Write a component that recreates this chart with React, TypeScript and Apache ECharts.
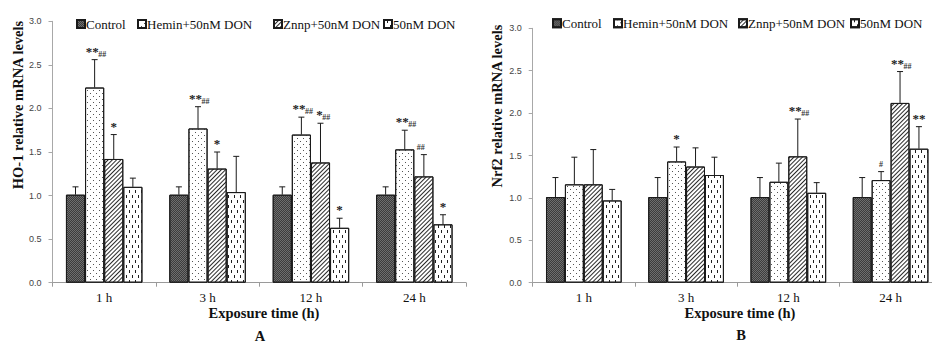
import React, { useEffect, useRef } from "react";
import * as echarts from "echarts";

const categories = ["1 h", "3 h", "12 h", "24 h"];
const seriesNames = ["Control", "Hemin+50nM DON", "Znnp+50nM DON", "50nM DON"];

// HO-1 relative mRNA levels (panel A)
const hoControl = [1.01, 1.01, 1.01, 1.01];
const hoHemin = [2.24, 1.77, 1.7, 1.53];
const hoZnnp = [1.42, 1.31, 1.38, 1.22];
const hoDon = [1.1, 1.04, 0.63, 0.67];
const hoControlSd = [0.09, 0.09, 0.09, 0.09];
const hoHeminSd = [0.32, 0.25, 0.2, 0.22];
const hoZnnpSd = [0.28, 0.19, 0.45, 0.25];
const hoDonSd = [0.1, 0.41, 0.11, 0.11];

// Nrf2 relative mRNA levels (panel B)
const nrControl = [1.01, 1.01, 1.01, 1.01];
const nrHemin = [1.16, 1.43, 1.19, 1.21];
const nrZnnp = [1.16, 1.37, 1.49, 2.12];
const nrDon = [0.97, 1.27, 1.06, 1.58];
const nrControlSd = [0.23, 0.23, 0.23, 0.23];
const nrHeminSd = [0.32, 0.17, 0.22, 0.1];
const nrZnnpSd = [0.41, 0.22, 0.44, 0.37];
const nrDonSd = [0.13, 0.21, 0.12, 0.26];

// significance marks: [category index, series index, stars, hashes]
const hoMarks: [number, number, string, string][] = [
  [0, 1, "**", "##"],
  [0, 2, "*", ""],
  [1, 1, "**", "##"],
  [1, 2, "*", ""],
  [2, 1, "**", "##"],
  [2, 2, "*", "##"],
  [2, 3, "*", ""],
  [3, 1, "**", "##"],
  [3, 2, "", "##"],
  [3, 3, "*", ""],
];
const nrMarks: [number, number, string, string][] = [
  [1, 1, "*", ""],
  [2, 2, "**", "##"],
  [3, 1, "", "#"],
  [3, 2, "**", "##"],
  [3, 3, "**", ""],
];

const yMin = 0;
const yMax = 3;
const yInterval = 0.5;

const SERIF = '"Liberation Serif", "Times New Roman", serif';
const SANS = '"Liberation Sans", Arial, sans-serif';
const CAT_GAP = 0.26;

const fills = ["#6e6e6e", "#ffffff", "#ffffff", "#ffffff"];
const decals: any[] = [
  {
    symbol: "rect",
    symbolSize: 1,
    dashArrayX: [[1, 1], [0, 1, 1, 0]],
    dashArrayY: [1, 0],
    color: "#3c3c3c",
    backgroundColor: "#7c7c7c",
  },
  {
    symbol: "rect",
    symbolSize: 1,
    dashArrayX: [[1, 5], [0, 3, 1, 2]],
    dashArrayY: [1, 2],
    color: "#555555",
    backgroundColor: "#ffffff",
  },
  {
    symbol: "rect",
    symbolSize: 1,
    dashArrayX: [1, 0],
    dashArrayY: [1, 2],
    rotation: -Math.PI / 4,
    color: "#2a2a2a",
    backgroundColor: "#ffffff",
  },
  {
    symbol: "rect",
    symbolSize: 1,
    dashArrayX: [[1, 5], [0, 3, 1, 2]],
    dashArrayY: [3, 2],
    color: "#1e1e1e",
    backgroundColor: "#ffffff",
  },
];

function barX(api: any, cat: number, si: number, v: number) {
  const band = api.size([1, 0])[0];
  const group = band * (1 - CAT_GAP);
  const bw = group / 4;
  const c = api.coord([cat, v]);
  return { x: c[0] - group / 2 + bw * (si + 0.5), y: c[1] };
}

function buildPanel(
  g: number,
  values: number[][],
  sds: number[][],
  marks: [number, number, string, string][]
) {
  const series: any[] = [];
  values.forEach((vals, si) => {
    series.push({
      type: "bar",
      name: seriesNames[si],
      xAxisIndex: g,
      yAxisIndex: g,
      data: vals,
      barGap: "0%",
      barCategoryGap: CAT_GAP * 100 + "%",
      itemStyle: {
        color: fills[si],
        borderColor: "#1a1a1a",
        borderWidth: 1,
        decal: decals[si],
      },
      emphasis: { disabled: true },
      z: 2,
    });
  });
  const errData: number[][] = [];
  values.forEach((vals, si) => {
    vals.forEach((v, ci) => {
      errData.push([ci, si, v, v + sds[si][ci]]);
    });
  });
  series.push({
    type: "custom",
    xAxisIndex: g,
    yAxisIndex: g,
    data: errData,
    z: 3,
    silent: true,
    renderItem: (params: any, api: any) => {
      const ci = api.value(0);
      const si = api.value(1);
      const v = api.value(2);
      const top = api.value(3);
      const p = barX(api, ci, si, v);
      const t = api.coord([ci, top]);
      return {
        type: "group",
        children: [
          {
            type: "line",
            shape: { x1: p.x, y1: p.y, x2: p.x, y2: t[1] },
            style: { stroke: "#1a1a1a", lineWidth: 1 },
          },
          {
            type: "line",
            shape: { x1: p.x - 3, y1: t[1], x2: p.x + 3, y2: t[1] },
            style: { stroke: "#1a1a1a", lineWidth: 1 },
          },
        ],
      };
    },
  });
  const markData = marks.map((m) => {
    const [ci, si] = m;
    return [ci, si, values[si][ci] + sds[si][ci]];
  });
  series.push({
    type: "custom",
    xAxisIndex: g,
    yAxisIndex: g,
    data: markData,
    z: 4,
    silent: true,
    itemStyle: { color: "#222" },
    renderItem: (params: any, api: any) => {
      const m = marks[params.dataIndex];
      const stars = m[2];
      const hash = m[3];
      const ci = api.value(0);
      const si = api.value(1);
      const top = api.value(2);
      const p = barX(api, ci, si, top);
      const children: any[] = [];
      const starW = stars.length * 6.5;
      let cx = p.x;
      if (stars && hash) cx = p.x - (stars.length === 2 ? 2.5 : 1);
      if (stars) {
        children.push({
          type: "text",
          x: cx,
          y: p.y - 8.5,
          style: {
            text: stars,
            font: "bold 13px " + SERIF,
            fill: "#222",
            align: "center",
            verticalAlign: "middle",
          },
        });
      }
      if (hash) {
        const hx = stars ? cx + starW / 2 - 0.5 : p.x - (hash.length - 1) * 3;
        const al = stars ? "left" : "center";
        children.push({
          type: "text",
          x: hx,
          y: stars ? p.y - 5.5 : p.y - 7.5,
          style: {
            text: hash,
            font: "bold 8px " + SERIF,
            fill: "#333",
            align: al,
            verticalAlign: "middle",
          },
        });
      }
      return { type: "group", children };
    },
  });
  return series;
}

function legendsFor(xs: number[], yCenter: number) {
  return xs.map((x, i) => ({
    data: [seriesNames[i]],
    left: x,
    top: yCenter - 8,
    padding: 0,
    itemWidth: 8,
    itemHeight: 8,
    icon: "rect",
    selectedMode: false,
    textStyle: {
      fontFamily: SERIF,
      fontSize: 13,
      color: "#111",
      lineHeight: 16,
      padding: [0, 0, 0, -4],
    },
  }));
}

function xAxisFor(g: number) {
  return {
    type: "category",
    gridIndex: g,
    data: categories,
    axisLine: { show: true, lineStyle: { color: "#9a9a9a", width: 1 } },
    axisTick: { show: true, length: 4, lineStyle: { color: "#9a9a9a" } },
    axisLabel: {
      fontFamily: SERIF,
      fontSize: 13,
      color: "#111",
      margin: 8,
    },
  };
}

function yAxisFor(g: number) {
  return {
    type: "value",
    gridIndex: g,
    min: yMin,
    max: yMax,
    interval: yInterval,
    axisLine: { show: true, lineStyle: { color: "#a8a8a8", width: 1 } },
    axisTick: { show: true, length: 4, lineStyle: { color: "#a8a8a8" } },
    splitLine: { show: false },
    axisLabel: {
      fontFamily: SANS,
      fontSize: 9,
      color: "#444",
      margin: 11,
      formatter: (v: number) => v.toFixed(1),
    },
  };
}

function textEl(text: string, x: number, y: number, size: number, rot = 0) {
  return {
    type: "text",
    x,
    y,
    rotation: rot,
    style: {
      text,
      font: "bold " + size + "px " + SERIF,
      fill: "#111",
      align: "center",
      verticalAlign: "middle",
    },
  };
}

export default function App() {
  const ref = useRef<HTMLDivElement>(null);
  useEffect(() => {
    if (!ref.current) return;
    const chart = echarts.init(ref.current, null, { renderer: "svg" });
    const seriesA = buildPanel(
      0,
      [hoControl, hoHemin, hoZnnp, hoDon],
      [hoControlSd, hoHeminSd, hoZnnpSd, hoDonSd],
      hoMarks
    );
    const seriesB = buildPanel(
      1,
      [nrControl, nrHemin, nrZnnp, nrDon],
      [nrControlSd, nrHeminSd, nrZnnpSd, nrDonSd],
      nrMarks
    );
    chart.setOption({
      animation: false,
      backgroundColor: "#ffffff",
      grid: [
        { left: 52.5, top: 21.3, width: 413.5, height: 261.4 },
        { left: 532.7, top: 28.3, width: 409, height: 254.4 },
      ],
      legend: [
        ...legendsFor([76, 137, 273, 383], 24),
        ...legendsFor([552, 613, 738, 850], 23.3),
      ],
      xAxis: [xAxisFor(0), xAxisFor(1)],
      yAxis: [yAxisFor(0), yAxisFor(1)],
      series: [...seriesA, ...seriesB],
      graphic: [
        textEl("HO-1 relative mRNA levels", 18, 105, 14.5, Math.PI / 2),
        textEl("Nrf2 relative mRNA levels", 497, 106, 14.5, Math.PI / 2),
        textEl("Exposure time (h)", 264, 313, 14.5),
        textEl("Exposure time (h)", 740, 313, 14.5),
        textEl("A", 260, 336, 14.5),
        textEl("B", 741, 335, 14.5),
      ],
    });
    return () => chart.dispose();
  }, []);
  return (
    <div
      style={{
        position: "absolute",
        left: 0,
        top: 0,
        width: 932,
        height: 345,
        overflow: "hidden",
      }}
    >
      <div ref={ref} style={{ width: 960, height: 345 }} />
    </div>
  );
}
